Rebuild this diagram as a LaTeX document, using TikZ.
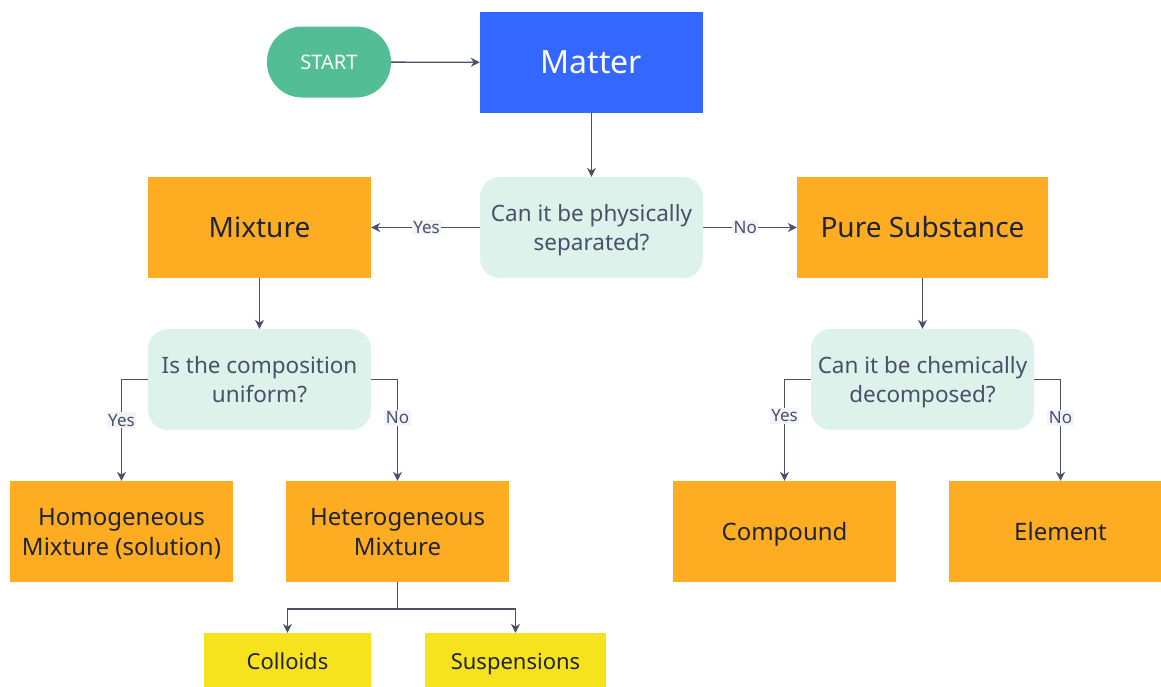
\documentclass[tikz,border=0pt]{standalone}
\usepackage{fontspec}
\setmainfont{Noto Sans}
\usepackage{xcolor}
\usetikzlibrary{arrows.meta,positioning,calc}
\definecolor{startgreen}{HTML}{53BE95}
\definecolor{matterblue}{HTML}{3467FF}
\definecolor{boxorange}{HTML}{FEAD22}
\definecolor{boxyellow}{HTML}{F6E31E}
\definecolor{questbg}{HTML}{DDF2EA}
\definecolor{linegray}{HTML}{4A5068}
\definecolor{textdark}{HTML}{1F2336}
\definecolor{labelbg}{HTML}{F2F4FA}
\tikzset{
  startbox/.style={fill=startgreen, rounded corners=35pt, minimum width=124pt, minimum height=71pt, text=white, font=\fontsize{20}{24}\selectfont, inner sep=0pt, text depth=0pt},
  topbox/.style={fill=matterblue, minimum width=223pt, minimum height=101pt, text=white, font=\fontsize{32}{38}\selectfont, inner sep=0pt, text depth=0pt},
  catbox/.style={fill=boxorange, minimum width=223pt, minimum height=101pt, text=textdark, align=center, font=\fontsize{28}{33}\selectfont, inner sep=0pt, text height=19pt, text depth=0pt},
  leafbox/.style={fill=boxorange, minimum width=223pt, minimum height=101pt, text=textdark, align=center, font=\fontsize{24}{30}\selectfont, inner sep=0pt, text depth=0pt},
  kindbox/.style={fill=boxyellow, minimum height=56pt, text=textdark, font=\fontsize{22}{26}\selectfont, inner sep=0pt, text depth=0pt},
  question/.style={fill=questbg, rounded corners=20pt, minimum width=223pt, minimum height=101pt, text=linegray, align=center, font=\fontsize{22.5}{29}\selectfont, inner sep=0pt, text depth=0pt},
  lbl/.style={fill=labelbg, text=linegray, font=\fontsize{17}{20}\selectfont, inner sep=1.5pt},
  arr/.style={-{Stealth[length=9pt,width=9pt]}, draw=linegray, line width=1.3pt}
}

\begin{document}
\begin{tikzpicture}[x=1pt,y=-1pt]
\useasboundingbox (0,0) rectangle (1161,686);

\node[startbox] (start) at (329,62) {START};
\node[topbox] (matter) at (591.5,62.5) {Matter};

\node[question] (physical) at (591.5,227.5) {Can it be physically\\ separated?};
\node[catbox] (mixture) at (259.5,227.5) {Mixture};
\node[catbox, minimum width=251pt] (pure) at (922.5,227.5) {Pure Substance};

\node[question] (uniform) at (259.5,379.5) {Is the composition\\ uniform?};
\node[question] (chemical) at (922.5,379.5) {Can it be chemically\\ decomposed?};

\node[leafbox] (homog) at (121.5,531.5) {Homogeneous\\ Mixture (solution)};
\node[leafbox] (heterog) at (397.5,531.5) {Heterogeneous\\ Mixture};
\node[leafbox] (compound) at (784.5,531.5) {Compound};
\node[leafbox] (element) at (1060.5,531.5) {Element};

\coordinate (split) at (397.5,609);
\node[kindbox, minimum width=167pt] (colloids) at (287.5,661) {Colloids};
\node[kindbox, minimum width=181pt] (suspensions) at (515.5,661) {Suspensions};

\draw[arr] (start) -- (matter);
\draw[arr] (matter) -- (physical);
\draw[arr] (physical) -- node[lbl, pos=0.49]{Yes} (mixture);
\draw[arr] (physical) -- node[lbl, pos=0.45]{No} (pure);

\draw[arr] (mixture) -- (uniform);
\draw[arr] (uniform.west) -| node[lbl, pos=0.7]{Yes} (homog.north);
\draw[arr] (uniform.east) -| node[lbl, pos=0.69]{No} (heterog.north);

\draw[arr] (pure) -- (chemical);
\draw[arr] (chemical.west) -| node[lbl, pos=0.68]{Yes} (compound.north);
\draw[arr] (chemical.east) -| node[lbl, pos=0.69]{No} (element.north);

\draw[arr, -] (heterog.south) -- (split);
\draw[arr] (split) -| (colloids.north);
\draw[arr] (split) -| (suspensions.north);
\end{tikzpicture}
\end{document}
